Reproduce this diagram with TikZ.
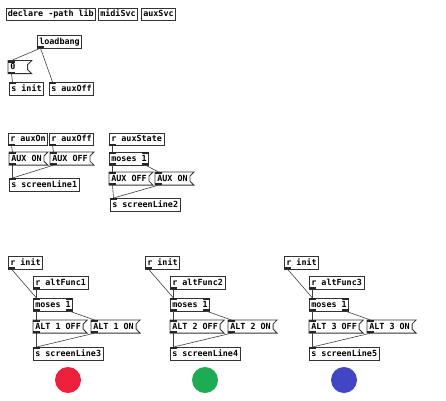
\documentclass[tikz,border=0pt]{standalone}
\usepackage{fontspec}
\setmonofont{DejaVu Sans Mono}
\definecolor{dotred}{RGB}{237,31,58}
\definecolor{dotgreen}{RGB}{29,171,84}
\definecolor{dotblue}{RGB}{66,70,196}
\colorlet{pdline}{black!80}
\tikzset{
  every node/.style={font=\ttfamily\bfseries\fontsize{8.4}{10}\selectfont},
  boxline/.style={draw=pdline,line width=0.65pt},
  pdbox/.style={boxline,anchor=north west,inner xsep=2pt,inner ysep=0pt,minimum height=12.5pt,text height=6.5pt,text depth=1.1pt},
  msg/.style={pdbox,draw=none,
    append after command={\pgfextra{%
      \draw[boxline,line width=0.85pt,line join=miter] (\tikzlastnode.north west) -- ([xshift=4pt]\tikzlastnode.north east)
        -- ([yshift=-4pt]\tikzlastnode.north east) -- ([yshift=4pt]\tikzlastnode.south east)
        -- ([xshift=4pt]\tikzlastnode.south east) -- (\tikzlastnode.south west) -- cycle;}}},
  iolet/.style={fill=black!85},
  cord/.style={line width=0.6pt,draw=black!75},
}
\newcommand{\cordL}[2]{\draw[cord] ([xshift=3.5pt]#1.south west) -- ([xshift=3.5pt]#2.north west);}
\newcommand{\cordR}[2]{\draw[cord] ([xshift=-3.5pt]#1.south east) -- ([xshift=3.5pt]#2.north west);}

\begin{document}
\begin{tikzpicture}[x=1pt,y=1pt]
  \useasboundingbox (0,0) rectangle (446,-400);

  % header objects
  \node[pdbox] (decl) at (5.5,-7.5) {declare -path lib};
  \node[pdbox] (midi) at (98,-7.5) {midiSvc};
  \node[pdbox] (auxsvc) at (141,-7.5) {auxSvc};

  % startup
  \node[pdbox] (lb) at (37,-35) {loadbang};
  \node[msg] (zero) at (8,-60.5) {\makebox[15pt][l]{0}};
  \node[pdbox] (sinit) at (9,-82) {s init};
  \node[pdbox] (saoff) at (49,-82) {s auxOff};

  % aux on/off
  \node[pdbox] (raon) at (8,-132.5) {r auxOn};
  \node[pdbox] (raoff) at (49,-132.5) {r auxOff};
  \node[msg] (mon) at (9,-152) {AUX ON};
  \node[msg] (moff) at (50,-152) {AUX OFF};
  \node[pdbox] (sl1) at (9,-178) {s screenLine1};

  % aux state
  \node[pdbox] (rst) at (109,-132.5) {r auxState};
  \node[pdbox] (smos) at (109,-152) {moses 1};
  \node[msg] (soff) at (109,-172) {AUX OFF};
  \node[msg] (son) at (155,-172) {AUX ON};
  \node[pdbox] (sl2) at (110,-198) {s screenLine2};

  % iolets
  \foreach \o in {lb,zero,raon,raoff,mon,moff,rst,smos,soff,son}
    \fill[iolet] (\o.south west) rectangle ++(7,2);
  \foreach \o in {zero,sinit,saoff,mon,moff,sl1,smos,soff,son,sl2}
    \fill[iolet] (\o.north west) rectangle ++(7,-2);
  \fill[iolet] (smos.north east) rectangle ++(-7,-2);
  \fill[iolet] (smos.south east) rectangle ++(-7,2);

  % cords
  \cordL{lb}{zero}
  \cordL{lb}{saoff}
  \cordL{zero}{sinit}
  \cordL{raon}{mon}
  \cordL{raoff}{moff}
  \cordL{mon}{sl1}
  \cordL{moff}{sl1}
  \cordL{rst}{smos}
  \cordL{smos}{soff}
  \cordR{smos}{son}
  \cordL{soff}{sl2}
  \cordL{son}{sl2}

  % alt groups
  \foreach \i/\dx/\k/\col in {1/0/3/dotred,2/137/4/dotgreen,3/276/5/dotblue}{
    \node[pdbox] (ri\i) at (8+\dx,-256) {r init};
    \node[pdbox] (ra\i) at (33+\dx,-276) {r altFunc\i};
    \node[pdbox] (am\i) at (33+\dx,-298) {moses 1};
    \node[msg] (aoff\i) at (33+\dx,-320) {ALT \i{} OFF};
    \node[msg] (aon\i) at (91+\dx,-320) {ALT \i{} ON};
    \node[pdbox] (asl\i) at (33+\dx,-347) {s screenLine\k};
    \fill[\col] (68+\dx,-380) circle (13);
    \foreach \o in {ri\i,ra\i,am\i,aoff\i,aon\i}
      \fill[iolet] (\o.south west) rectangle ++(7,2);
    \foreach \o in {am\i,aoff\i,aon\i,asl\i}
      \fill[iolet] (\o.north west) rectangle ++(7,-2);
    \fill[iolet] (am\i.north east) rectangle ++(-7,-2);
    \fill[iolet] (am\i.south east) rectangle ++(-7,2);
    \cordL{ri\i}{am\i}
    \cordL{ra\i}{am\i}
    \cordL{am\i}{aoff\i}
    \cordR{am\i}{aon\i}
    \cordL{aoff\i}{asl\i}
    \cordL{aon\i}{asl\i}
  }
\end{tikzpicture}
\end{document}
